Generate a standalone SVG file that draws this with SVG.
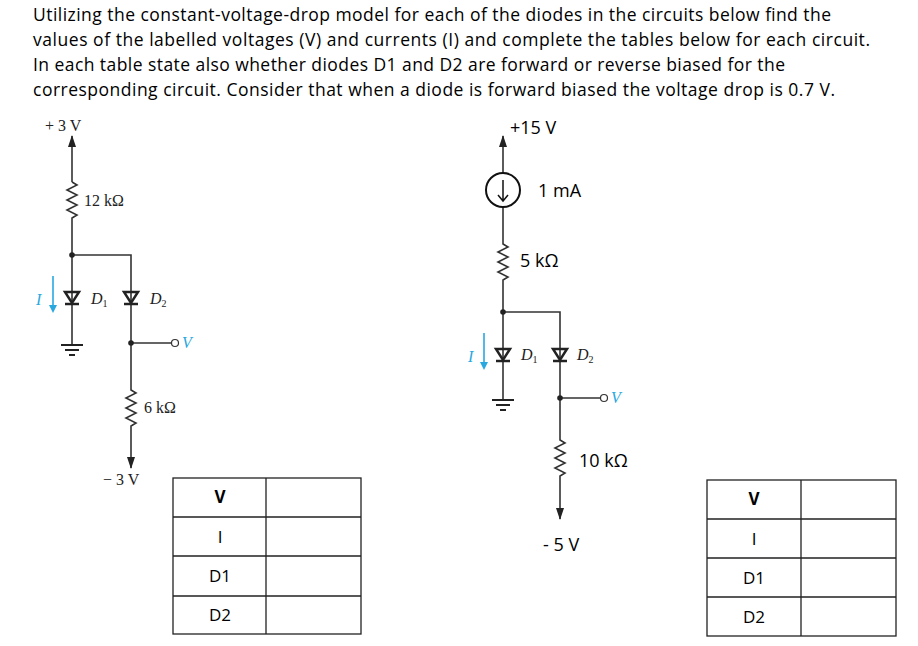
<svg xmlns="http://www.w3.org/2000/svg" width="918" height="646" viewBox="0 0 918 646">
<style>
.h{font-family:"Open Sans","Liberation Sans",sans-serif;font-size:17.5px;fill:#000}
.s{font-family:"Liberation Serif",serif;font-size:16px;fill:#222}
.a{font-family:"Open Sans","Liberation Sans",sans-serif;font-size:18px;fill:#000}
.w{fill:none;stroke:#333;stroke-width:1.6}
.t{fill:none;stroke:#222;stroke-width:1.3}
.b{fill:#29a8e0;font-family:"Liberation Serif",serif;font-style:italic;font-size:16px}
.tb{font-family:"Open Sans","Liberation Sans",sans-serif;font-size:17px;text-anchor:middle}
</style>
<defs>
<marker id="ar" markerWidth="12" markerHeight="8" refX="11" refY="4" orient="auto" markerUnits="userSpaceOnUse" viewBox="0 0 12 8"><path d="M0,0 L12,4 L0,8 Z" fill="#222"/></marker>
<g id="dio"><path d="M-7,-6 L7,-6 L0,5 Z" fill="none" stroke="#222" stroke-width="2.5"/><line x1="-7" y1="6" x2="7" y2="6" stroke="#222" stroke-width="2.5"/></g>
<g id="gnd"><line x1="-11" y1="0" x2="11" y2="0" stroke="#222" stroke-width="2"/><line x1="-7" y1="5" x2="7" y2="5" stroke="#222" stroke-width="2"/><line x1="-3" y1="10" x2="3" y2="10" stroke="#222" stroke-width="2"/></g>
</defs>
<g id="text">
<text class="h" x="33" y="21" textLength="798">Utilizing the constant-voltage-drop model for each of the diodes in the circuits below find the</text>
<text class="h" x="33" y="46" textLength="837">values of the labelled voltages (V) and currents (I) and complete the tables below for each circuit.</text>
<text class="h" x="33" y="71" textLength="752">In each table state also whether diodes D1 and D2 are forward or reverse biased for the</text>
<text class="h" x="33" y="96" textLength="802">corresponding circuit. Consider that when a diode is forward biased the voltage drop is 0.7 V.</text>
</g>
<g id="connectors">
<path class="w" d="M72,182 V136" marker-end="url(#ar)"/>
<path class="w" d="M72,182 l5,3 l-10,5 l10,5 l-10,5 l10,5 l-10,5 l10,5 l-5,3 V345 M72,255 H131 V345 M131,343 H172"/>
<path class="w" d="M131,343 V390 l5,3 l-10,5 l10,5 l-10,5 l10,5 l-10,5 l10,5 l-5,3 V468" marker-end="url(#ar)"/>
<path class="w" d="M503,173 V136" stroke-width="2.5" marker-end="url(#ar)"/>
<path class="w" d="M503,207 V244 l5,3 l-10,5 l10,5 l-10,5 l10,5 l-10,5 l10,5 l-5,3 V400 M503,312 H560 V400 M560,398 H601"/>
<path class="w" d="M560,398 V440 l5,3 l-10,5 l10,5 l-10,5 l10,5 l-10,5 l10,5 l-5,3 V519" marker-end="url(#ar)"/>
</g>
<g id="circuit1">
<text class="s" x="45" y="131">+ 3 V</text>
<circle cx="72" cy="255" r="2.8" fill="#222"/><circle cx="131" cy="343" r="2.8" fill="#222"/>
<circle cx="175" cy="343" r="3.5" fill="#fff" stroke="#333" stroke-width="1.2"/>
<use href="#dio" x="72" y="298"/><use href="#dio" x="131" y="298"/>
<use href="#gnd" x="72" y="345"/>
<text class="s" x="84" y="206">12 kΩ</text>
<text class="s" x="91" y="304"><tspan font-style="italic">D</tspan><tspan font-size="10" dy="3">1</tspan></text>
<text class="s" x="150" y="304"><tspan font-style="italic">D</tspan><tspan font-size="10" dy="3">2</tspan></text>
<text class="b" x="182" y="348">V</text>
<text class="s" x="144" y="413">6 kΩ</text>
<text class="s" x="103" y="485">− 3 V</text>
<text class="b" x="36" y="305">I</text>
<path d="M53,276 V310" stroke="#29a8e0" stroke-width="1.6"/><path d="M49,305 L53,313 L57,305 Z" fill="#29a8e0"/>
</g>
<g id="circuit2">
<text class="a" x="510" y="134">+15 V</text>
<circle cx="503" cy="190" r="17" fill="none" stroke="#111" stroke-width="2"/>
<path d="M503,180 V200 M498,195 L503,201 L508,195" fill="none" stroke="#111" stroke-width="1.5"/>
<text class="a" x="538" y="197">1 mA</text>
<circle cx="503" cy="312" r="2.8" fill="#222"/><circle cx="560" cy="398" r="2.8" fill="#222"/>
<circle cx="604" cy="398" r="3.5" fill="#fff" stroke="#333" stroke-width="1.2"/>
<use href="#dio" x="503" y="355"/><use href="#dio" x="560" y="355"/>
<use href="#gnd" x="503" y="400"/>
<text class="a" x="520" y="267">5 kΩ</text>
<text class="s" x="521" y="360"><tspan font-style="italic">D</tspan><tspan font-size="10" dy="3">1</tspan></text>
<text class="s" x="577" y="360"><tspan font-style="italic">D</tspan><tspan font-size="10" dy="3">2</tspan></text>
<text class="b" x="611" y="403">V</text>
<text class="a" x="579" y="467">10 kΩ</text>
<text class="a" x="543" y="551">- 5 V</text>
<text class="b" x="468" y="362">I</text>
<path d="M484,333 V367" stroke="#29a8e0" stroke-width="1.6"/><path d="M480,362 L484,370 L488,362 Z" fill="#29a8e0"/>
</g>
<g id="table1">
<rect class="t" x="173" y="478" width="188" height="156"/>
<path class="t" d="M266,478 V634 M173,517 H361 M173,556 H361 M173,596 H361"/>
<text class="tb" x="220" y="503" font-weight="bold">V</text>
<text class="tb" x="220" y="543">I</text>
<text class="tb" x="220" y="582">D1</text>
<text class="tb" x="220" y="621">D2</text>
</g>
<g id="table2">
<rect class="t" x="707" y="480" width="189" height="156"/>
<path class="t" d="M801,480 V636 M707,519 H896 M707,558 H896 M707,597 H896"/>
<text class="tb" x="754" y="505" font-weight="bold">V</text>
<text class="tb" x="754" y="545">I</text>
<text class="tb" x="754" y="584">D1</text>
<text class="tb" x="754" y="623">D2</text>
</g>
</svg>
